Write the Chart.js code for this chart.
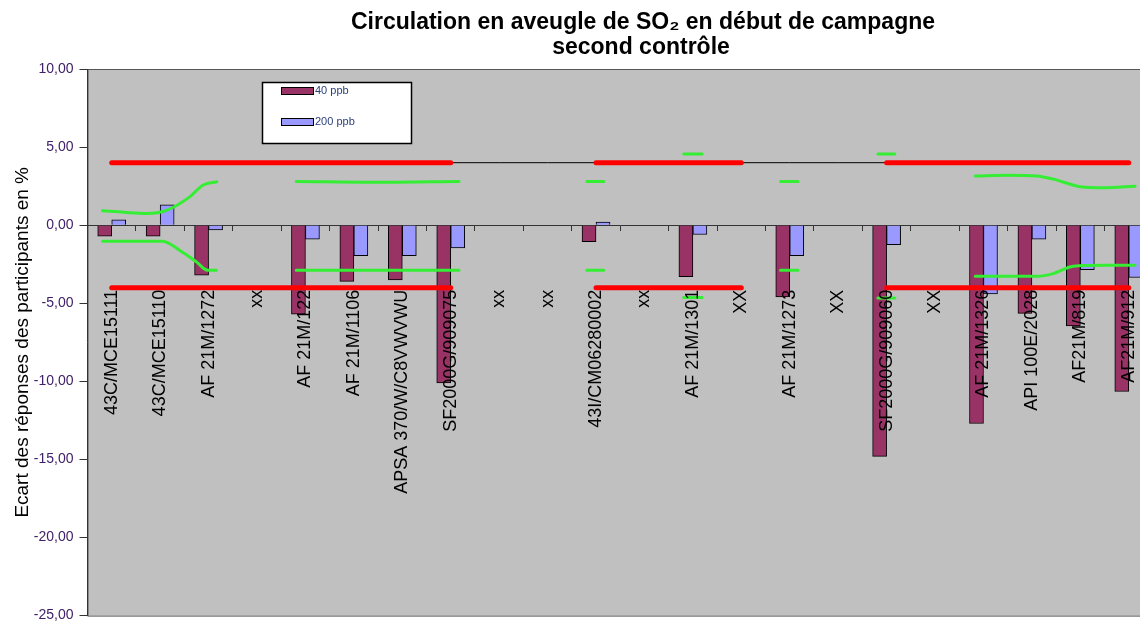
<!DOCTYPE html>
<html>
<head>
<meta charset="utf-8">
<script src="https://cdn.jsdelivr.net/npm/chart.js@4/dist/chart.umd.min.js"></script>
<style>
  html, body { margin: 0; padding: 0; background: #fff; overflow: hidden; }
  #box { width: 1158px; height: 630px; }
</style>
</head>
<body>
<div id="box"><canvas id="grafico" width="1158" height="630"></canvas></div>
<script>
const categories = ['43C/MCE15111', '43C/MCE15110', 'AF 21M/1272', 'xx', 'AF 21M/122', 'AF 21M/1106',
    'APSA 370/W/C8VWVWU', 'SF2000G/909075', 'xx', 'xx', '43I/CM06280002', 'xx', 'AF 21M/1301', 'XX',
    'AF 21M/1273', 'XX', 'SF2000G/909060', 'XX', 'AF 21M/1326', 'API 100E/2028', 'AF21M/819', 'AF21M/912'];

const ppb40 = [-0.7, -0.7, -3.2, null, -5.7, -3.6, -3.5, -10.1, null, null, -1.05, null,
    -3.3, null, -4.6, null, -14.8, null, -12.7, -5.65, -6.45, -10.65];
const ppb200 = [0.35, 1.3, -0.3, null, -0.9, -1.95, -1.95, -1.45, null, null, 0.2, null,
    -0.6, null, -1.95, null, -1.25, null, -4.4, -0.9, -2.85, -3.35];

// limites +/- 4 % (rouge) et trait fin a +4
const limiteHaut = [4, 4, 4, 4, 4, 4, 4, 4, null, null, 4, 4, 4, 4, null, null, 4, 4, 4, 4, 4, 4];
const limiteBas = [-4, -4, -4, -4, -4, -4, -4, -4, null, null, -4, -4, -4, -4, null, null, -4, -4, -4, -4, -4, -4];
const traitHaut = [4, 4, 4, 4, 4, 4, 4, 4, 4, 4, 4, 4, 4, 4, 4, 4, 4, 4, 4, 4, 4, 4];

// traits verts (position en index de categorie)
const vertHautX = [-0.19, 0.26, 0.72, 1.13, 1.61, 1.88, 2.17, 3, 3.81, 5.5, 7.17, 8.5, 9.81, 10.16, 11,
    11.81, 12.19, 13, 13.81, 14.17, 15, 15.82, 16.17, 17, 17.83, 18.5, 19.1, 19.44, 20.0, 20.47, 21.13];
const vertHautY = [0.92, 0.82, 0.75, 0.95, 1.81, 2.56, 2.78, null, 2.8, 2.75, 2.8, null, 2.8, 2.8, null,
    4.55, 4.55, null, 2.8, 2.8, null, 4.55, 4.55, null, 3.15, 3.2, 3.15, 2.95, 2.46, 2.39, 2.5];
const vertBasX = [-0.19, 0.5, 1.05, 1.40, 1.75, 1.98, 2.16, 3, 3.81, 5.5, 7.17, 8.5, 9.81, 10.16, 11,
    11.81, 12.19, 13, 13.81, 14.17, 15, 15.82, 16.17, 17, 17.83, 18.5, 19.1, 19.44, 19.85, 20.5, 21.13];
const vertBasY = [-1.03, -1.03, -1.03, -1.6, -2.35, -2.88, -2.88, null, -2.88, -2.88, -2.88, null, -2.88, -2.88, null,
    -4.63, -4.63, null, -2.88, -2.88, null, -4.66, -4.66, null, -3.27, -3.27, -3.27, -3.1, -2.63, -2.56, -2.56];

const yTicks = [10, 5, 0, -5, -10, -15, -20, -25];
const titre = ['Circulation en aveugle de SO\u2082 en d\u00e9but de campagne', 'second contr\u00f4le'];

const police = "'Liberation Sans', Arial, sans-serif";
const enPoints = (xs, ys) => xs.map((x, i) => ({ x: x, y: ys[i] }));

const fondPlugin = {
    id: 'fond',
    beforeDraw(chart) {
        const { ctx, chartArea: a } = chart;
        ctx.save();
        ctx.fillStyle = '#C0C0C0';
        ctx.fillRect(a.left, a.top, a.right - a.left, a.bottom - a.top);
        ctx.strokeStyle = '#555';
        ctx.lineWidth = 1;
        ctx.strokeRect(a.left + 0.5, a.top + 0.5, a.right - a.left, a.bottom - a.top);
        ctx.restore();
    }
};

// titre centre comme dans l'original (graphique coupe a droite)
const titrePlugin = {
    id: 'titre',
    afterDraw(chart) {
        const ctx = chart.ctx;
        ctx.save();
        ctx.fillStyle = '#000';
        ctx.font = 'bold 23px ' + police;
        ctx.textAlign = 'center';
        ctx.textBaseline = 'middle';
        ctx.fillText(titre[0], 643, 23);
        ctx.fillText(titre[1], 641, 48);
        ctx.restore();
    }
};

const legendePlugin = {
    id: 'legende',
    afterDraw(chart) {
        const ctx = chart.ctx;
        ctx.save();
        ctx.fillStyle = '#fff';
        ctx.fillRect(262, 82, 149, 61);
        ctx.strokeStyle = '#000';
        ctx.lineWidth = 1.5;
        ctx.strokeRect(262.5, 82.5, 149, 61);
        const items = [['40 ppb', '#993366', 87], ['200 ppb', '#9999FF', 118]];
        ctx.font = '11px ' + police;
        ctx.textBaseline = 'middle';
        items.forEach(([txt, col, y]) => {
            ctx.fillStyle = col;
            ctx.fillRect(281, y, 32, 7);
            ctx.lineWidth = 1;
            ctx.strokeStyle = '#000';
            ctx.strokeRect(281.5, y + 0.5, 32, 7);
            ctx.fillStyle = '#2b3f7a';
            ctx.fillText(txt, 315, y + 4);
        });
        ctx.restore();
    }
};

new Chart(document.getElementById('grafico'), {
    type: 'bar',
    data: {
        labels: categories,
        datasets: [
            {
                type: 'line', label: 'vert haut', data: enPoints(vertHautX, vertHautY), xAxisID: 'xl',
                borderColor: '#33EE33', borderWidth: 3, pointRadius: 0, cubicInterpolationMode: 'monotone',
                spanGaps: false, order: 0, borderCapStyle: 'round'
            },
            {
                type: 'line', label: 'vert bas', data: enPoints(vertBasX, vertBasY), xAxisID: 'xl',
                borderColor: '#33EE33', borderWidth: 3, pointRadius: 0, cubicInterpolationMode: 'monotone',
                spanGaps: false, order: 0, borderCapStyle: 'round'
            },
            {
                type: 'line', label: 'limite haut', data: limiteHaut, borderColor: '#FF0000', borderWidth: 5,
                pointRadius: 0, spanGaps: false, order: 1, borderCapStyle: 'round'
            },
            {
                type: 'line', label: 'limite bas', data: limiteBas, borderColor: '#FF0000', borderWidth: 5,
                pointRadius: 0, spanGaps: false, order: 1, borderCapStyle: 'round'
            },
            {
                type: 'line', label: 'trait', data: traitHaut, borderColor: '#000', borderWidth: 1,
                pointRadius: 0, order: 2
            },
            {
                label: '40 ppb', data: ppb40, backgroundColor: '#993366', borderColor: '#000',
                borderWidth: 1, barThickness: 14, order: 10
            },
            {
                label: '200 ppb', data: ppb200, backgroundColor: '#9999FF', borderColor: '#000',
                borderWidth: 1, barThickness: 14, order: 10
            }
        ]
    },
    options: {
        responsive: false,
        animation: false,
        devicePixelRatio: 1,
        layout: { padding: { left: 1, right: 5, top: 69, bottom: 0 } },
        plugins: {
            legend: { display: false },
            tooltip: { enabled: false },
            title: { display: false }
        },
        scales: {
            x: {
                type: 'category',
                position: { y: 0 },
                offset: true,
                grid: { offset: true, drawOnChartArea: false, drawTicks: true, tickLength: 5, color: '#333' },
                border: { display: true, color: '#333' },
                ticks: { display: false }
            },
            xlab: {
                type: 'category',
                position: { y: -4 },
                offset: true,
                grid: { display: false, drawTicks: false },
                border: { display: false },
                ticks: {
                    z: 1,
                    autoSkip: false, minRotation: 90, maxRotation: 90, padding: 2,
                    color: '#000', font: { family: police, size: 18 }
                }
            },
            xl: { type: 'linear', min: -0.5, max: 21.5, offset: false, display: false },
            y: {
                type: 'linear',
                min: -25,
                max: 10,
                afterBuildTicks: (s) => { s.ticks = yTicks.map(v => ({ value: v })); },
                grid: { drawOnChartArea: false, tickLength: 8, color: '#333' },
                border: { color: '#333' },
                ticks: {
                    padding: 6,
                    color: '#40206a',
                    font: { family: police, size: 14 },
                    callback: (v) => v.toFixed(2).replace('.', ',')
                },
                title: {
                    display: true,
                    text: 'Ecart des r\u00e9ponses des participants en %',
                    color: '#000',
                    font: { family: police, size: 19 },
                    padding: { top: 10, bottom: -6 }
                }
            }
        }
    },
    plugins: [fondPlugin, titrePlugin, legendePlugin]
});
</script>
</body>
</html>
